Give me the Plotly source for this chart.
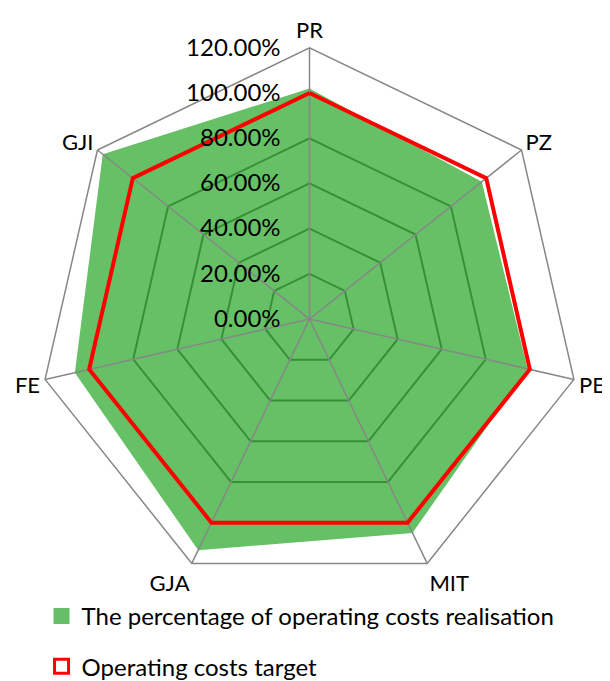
import plotly.graph_objects as go

categories = ["PR", "PZ", "PE", "MIT", "GJA", "FE", "GJI"]
realisation = [102, 97.5, 99, 105, 113.5, 106.5, 117]
target = [100, 100, 100, 100, 100, 100, 100]
radial_ticks = [0, 20, 40, 60, 80, 100, 120]
radial_labels = [f"{v:.2f}%" for v in radial_ticks]

FONT = "Lato"
FS = 24
GRAY = "#878787"

fig = go.Figure()

fig.add_trace(go.Scatterpolar(
    r=realisation + realisation[:1], theta=categories + categories[:1],
    mode="none", fill="toself", fillcolor="rgba(0,150,0,0.6)",
    showlegend=False, hoverinfo="skip"))

for c in categories:
    fig.add_trace(go.Scatterpolar(
        r=[0, radial_ticks[-1]], theta=[c, c], mode="lines",
        line=dict(color=GRAY, width=1.5), showlegend=False, hoverinfo="skip"))

fig.add_trace(go.Scatterpolar(
    r=target + target[:1], theta=categories + categories[:1],
    mode="lines", line=dict(color="#FF0000", width=4),
    showlegend=False, hoverinfo="skip"))

# legend entries
fig.add_trace(go.Scatterpolar(
    r=[None], theta=[categories[0]], mode="markers",
    marker=dict(symbol="square", size=16, color="#66BF66"),
    name="The percentage of operating costs realisation", legendgroup="a"))
fig.add_trace(go.Scatterpolar(
    r=[None], theta=[categories[0]], mode="markers",
    marker=dict(symbol="square-open", size=14, color="#FF0000", line=dict(width=3, color="#FF0000")),
    name="Operating costs target", legendgroup="b"))

fig.update_layout(
    width=610, height=681,
    margin=dict(l=0, r=0, t=0, b=0),
    paper_bgcolor="white",
    font=dict(family=FONT, size=FS, color="black"),
    polar=dict(
        domain=dict(x=[22.5/610, 580.5/610], y=[82/681, 640/681]),
        bgcolor="white",
        gridshape="linear",
        angularaxis=dict(
            rotation=90, direction="clockwise",
            showgrid=False, showline=True, linecolor=GRAY, linewidth=1.5,
            ticks="", 
            tickfont=dict(family=FONT, size=22, color="black")),
        radialaxis=dict(
            range=[0, radial_ticks[-1]], angle=90, tickangle=90,
            side="counterclockwise",
            tickmode="array", tickvals=radial_ticks, ticktext=radial_labels,
            showline=False, showgrid=True, gridcolor=GRAY, gridwidth=1.5,
            ticks="outside", ticklen=20, tickcolor="rgba(0,0,0,0)",
            tickfont=dict(family=FONT, size=FS, color="black")),
    ),
    legend=dict(
        orientation="v", x=0.055, xanchor="left", y=0.115, yanchor="top",
        tracegroupgap=16, traceorder="grouped",
        font=dict(family=FONT, size=FS, color="black"),
        bgcolor="rgba(0,0,0,0)"),
    showlegend=True,
)

fig.write_html("out.html")
